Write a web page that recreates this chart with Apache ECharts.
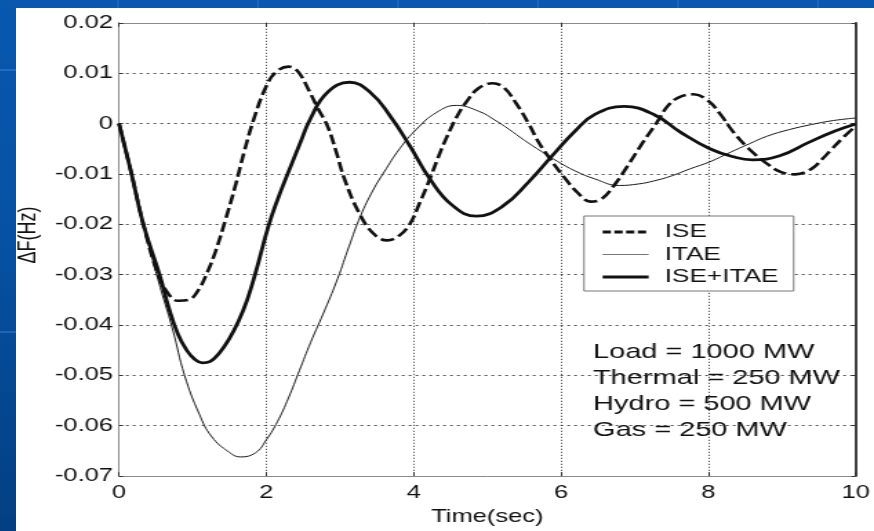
<!DOCTYPE html>
<html>
<head>
<meta charset="utf-8">
<script src="https://cdn.jsdelivr.net/npm/echarts@6/dist/echarts.min.js"></script>
<style>
  html, body {
    margin: 0; padding: 0; width: 874px; height: 531px; overflow: hidden;
    background:
      repeating-linear-gradient(90deg, transparent 0 117px, rgba(80,150,235,0.22) 117px 119px, transparent 119px 140px),
      repeating-linear-gradient(180deg, transparent 0 69px, rgba(80,150,235,0.35) 69px 71px, transparent 71px 262px),
      linear-gradient(180deg, #0858b0 0%, #0651a3 45%, #033f82 100%);
  }
  #panel { position: absolute; left: 16px; top: 8px; width: 858px; height: 523px; background: #fff; overflow: hidden; }
  /* the plot is laid out narrow and widened with a horizontal stretch */
  #chart { position: absolute; left: 0; top: 0; width: 622px; height: 523px; transform: scaleX(1.37942); transform-origin: 0 0; }
</style>
</head>
<body>
<div id="panel"><div id="chart"></div></div>
<script>
// Axis ranges
const timeRange = [0, 10];
const timeStep = 2;
const freqRange = [-0.07, 0.02];
const freqStep = 0.01;

// Legend entries
const seriesNames = ['ISE', 'ITAE', 'ISE+ITAE'];

// Frequency deviation ΔF (Hz) against time (s)
const iseCurve = [
  [0, 0], [0.17, -0.010], [0.33, -0.020], [0.53, -0.030], [0.68, -0.0340], [0.80, -0.0352],
  [0.95, -0.0350], [1.08, -0.0330], [1.20, -0.0295], [1.31, -0.0254], [1.45, -0.0189],
  [1.58, -0.0123], [1.71, -0.0050], [1.83, 0.0009], [1.98, 0.0068], [2.12, 0.0101],
  [2.30, 0.0113], [2.43, 0.0103], [2.58, 0.0065], [2.70, 0.0030], [2.83, -0.0005],
  [2.95, -0.0057], [3.06, -0.0110], [3.25, -0.0175], [3.45, -0.0218], [3.64, -0.0232],
  [3.80, -0.0223], [3.95, -0.0199], [4.08, -0.0158], [4.22, -0.0110], [4.33, -0.0068],
  [4.44, -0.0030], [4.58, 0.0012], [4.71, 0.0042], [4.88, 0.0070], [5.07, 0.0080],
  [5.22, 0.0072], [5.40, 0.0038], [5.56, 0.0000], [5.70, -0.0038], [5.85, -0.0070],
  [6.05, -0.0108], [6.23, -0.0138], [6.40, -0.0155], [6.55, -0.0150], [6.72, -0.0123],
  [6.90, -0.0085], [7.10, -0.0040], [7.30, 0.0002], [7.45, 0.0035], [7.60, 0.0052],
  [7.80, 0.0058], [8.00, 0.0045], [8.17, 0.0017], [8.34, -0.0017], [8.55, -0.0050],
  [8.78, -0.0078], [8.98, -0.0096], [9.18, -0.0101], [9.40, -0.0090], [9.55, -0.0070],
  [9.68, -0.0050], [9.85, -0.0025], [10, -0.0005]
];
const itaeCurve = [
  [0, 0], [0.17, -0.010], [0.33, -0.020], [0.53, -0.031], [0.73, -0.041], [0.89, -0.050],
  [1.09, -0.0577], [1.26, -0.0622], [1.49, -0.0652], [1.65, -0.0662], [1.85, -0.0654],
  [2.00, -0.0628], [2.15, -0.0592], [2.30, -0.0545], [2.45, -0.0490], [2.60, -0.0435],
  [2.80, -0.0368], [2.97, -0.0307], [3.12, -0.0245], [3.28, -0.0183], [3.45, -0.0132],
  [3.60, -0.0096], [3.81, -0.0050], [4.04, -0.0011], [4.31, 0.0022], [4.58, 0.0036],
  [4.89, 0.0024], [5.10, 0.0007], [5.29, -0.0011], [5.50, -0.0033], [5.74, -0.0056],
  [5.95, -0.0075], [6.19, -0.0094], [6.46, -0.0110], [6.79, -0.0123], [7.05, -0.0120],
  [7.26, -0.0114], [7.50, -0.0104], [7.75, -0.0090], [8.02, -0.0076], [8.30, -0.0057],
  [8.56, -0.0040], [8.80, -0.0025], [9.10, -0.0012], [9.40, -0.0002], [9.70, 0.0006],
  [10, 0.0011]
];
const comboCurve = [
  [0, 0], [0.17, -0.010], [0.33, -0.020], [0.55, -0.030], [0.68, -0.0368], [0.80, -0.0418],
  [0.91, -0.0448], [1.02, -0.0467], [1.13, -0.0475], [1.24, -0.0472], [1.36, -0.0456],
  [1.49, -0.0429], [1.62, -0.0393], [1.74, -0.0350], [1.85, -0.0298], [2.03, -0.0203],
  [2.16, -0.0148], [2.30, -0.0096], [2.45, -0.0042], [2.60, 0.0010], [2.83, 0.0062],
  [3.13, 0.0082], [3.41, 0.0062], [3.68, 0.0015], [3.95, -0.0045], [4.22, -0.0110],
  [4.53, -0.0163], [4.85, -0.0184], [5.20, -0.0165], [5.56, -0.0116], [5.88, -0.0064],
  [6.19, -0.0015], [6.46, 0.0018], [6.86, 0.0034], [7.26, 0.0018], [7.62, -0.0017],
  [8.02, -0.0050], [8.34, -0.0066], [8.60, -0.0072], [8.97, -0.0064], [9.37, -0.0037],
  [9.72, -0.0015], [10, -0.0001]
];

// Operating point notes
const notes = ['Load = 1000 MW', 'Thermal = 250 MW', 'Hydro = 500 MW', 'Gas = 250 MW'];

const SX = 858 / 622;   // horizontal stretch of the chart element
const font = "'Liberation Sans', Arial, sans-serif";
const ink = '#111';

const chart = echarts.init(document.getElementById('chart'), null, { renderer: 'canvas' });

const frameAxis = (extra) => Object.assign({
  type: 'value',
  axisLabel: { show: false },
  splitLine: { show: false },
  axisTick: { show: true, inside: true, length: 4, lineStyle: { color: '#333' } }
}, extra);

chart.setOption({
  animation: false,
  backgroundColor: '#fff',
  grid: { left: 103 / SX, right: 9.7 / SX, top: 14.8, bottom: 51.5 },
  xAxis: [
    {
      type: 'value', min: timeRange[0], max: timeRange[1], interval: timeStep,
      name: 'Time(sec)', nameLocation: 'middle', nameGap: 29.5,
      nameTextStyle: { fontFamily: font, fontSize: 18.5, color: ink },
      axisLine: { show: true, onZero: false, lineStyle: { color: '#8a8a8a', width: 1 } },
      axisTick: { show: true, inside: true, length: 4, lineStyle: { color: '#333' } },
      axisLabel: { margin: 7, fontFamily: font, fontSize: 18.5, color: ink },
      splitLine: { show: true, showMinLine: false, showMaxLine: false,
        lineStyle: { color: '#333', type: [1, 2], width: 1 } }
    },
    frameAxis({ position: 'top', min: timeRange[0], max: timeRange[1], interval: timeStep,
      axisLine: { show: true, onZero: false, lineStyle: { color: '#8a8a8a', width: 1 } } })
  ],
  yAxis: [
    {
      type: 'value', min: freqRange[0], max: freqRange[1], interval: freqStep,
      axisLine: { show: true, onZero: false, lineStyle: { color: '#8a8a8a', width: 1 } },
      axisTick: { show: true, inside: true, length: 3, lineStyle: { color: '#333' } },
      axisLabel: { margin: 4.3, fontFamily: font, fontSize: 18.5, color: ink,
        formatter: (v) => String(Number(v.toFixed(2))) },
      splitLine: { show: true, showMinLine: false, showMaxLine: false,
        lineStyle: { color: '#555', type: [2, 3], width: 1 } }
    },
    frameAxis({ position: 'right', min: freqRange[0], max: freqRange[1], interval: freqStep,
      axisTick: { show: true, inside: true, length: 3, lineStyle: { color: '#333' } },
      axisLine: { show: true, onZero: false, lineStyle: { color: '#111', width: 1.6 } } })
  ],
  legend: {
    orient: 'vertical', left: 568 / SX, top: 208,
    padding: [5, 11, 3, 12],
    itemWidth: 46 / SX, itemHeight: 14, itemGap: 0.5,
    backgroundColor: '#fff', borderColor: '#777', borderWidth: 1, borderRadius: 0,
    textStyle: { fontFamily: font, fontSize: 19, color: ink, lineHeight: 22, padding: [0, 0, 0, 16 / SX - 5] },
    itemStyle: { opacity: 0 },
    data: [
      { name: seriesNames[0], lineStyle: { width: 3, type: [6, 2.5], color: ink } },
      { name: seriesNames[1], lineStyle: { width: 1, type: 'solid', color: '#777' } },
      { name: seriesNames[2], lineStyle: { width: 3, type: 'solid', color: ink } }
    ]
  },
  graphic: [
    { type: 'text', x: 12 / SX, y: 227, rotation: Math.PI / 2,
      style: { text: 'ΔF(Hz)', fontFamily: font, fontSize: 18, fill: ink, align: 'center', verticalAlign: 'middle' } }
  ].concat(notes.map((t, i) => ({
    type: 'text', x: 577 / SX, y: 344.7 + i * 25.8, z: 10,
    style: { text: t, fontFamily: font, fontSize: 21, fill: ink, align: 'left', verticalAlign: 'middle' }
  }))),
  series: [
    { name: seriesNames[1], type: 'line', data: itaeCurve, symbol: 'none', showSymbol: false,
      smooth: 0.45, lineStyle: { color: '#1a1a1a', width: 1 }, z: 3 },
    { name: seriesNames[2], type: 'line', data: comboCurve, symbol: 'none', showSymbol: false,
      smooth: 0.45, lineStyle: { color: ink, width: 2.8 }, z: 3 },
    { name: seriesNames[0], type: 'line', data: iseCurve, symbol: 'none', showSymbol: false,
      smooth: 0.4, lineStyle: { color: ink, width: 2.6, type: [10, 4] }, z: 4 }
  ]
});
</script>
</body>
</html>
